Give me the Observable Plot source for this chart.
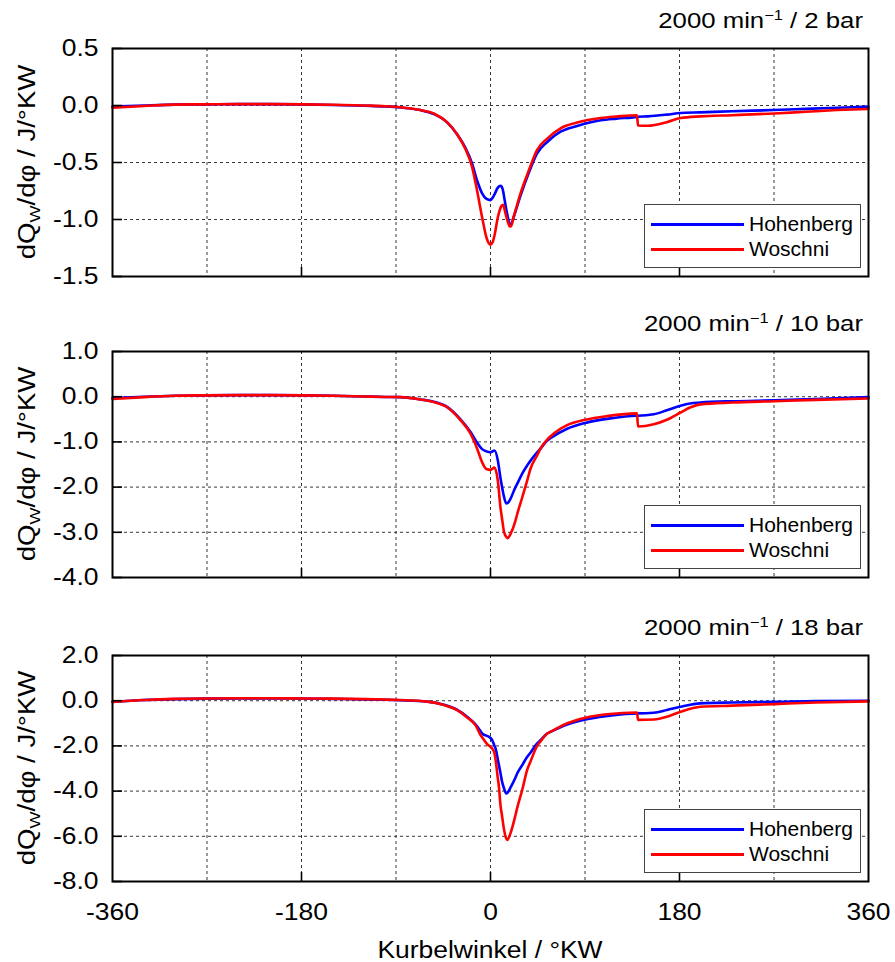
<!DOCTYPE html>
<html>
<head>
<meta charset="utf-8">
<script src="https://cdn.jsdelivr.net/npm/d3@7"></script>
<script src="https://cdn.jsdelivr.net/npm/@observablehq/plot@0.6"></script>
<style>
  html, body { margin: 0; padding: 0; background: #fff; }
  #chart { position: relative; width: 895px; height: 962px; overflow: hidden; font-family: "Liberation Sans", Arial, sans-serif; }
  .panel { position: absolute; left: 0; width: 895px; }
  .legend { position: absolute; box-sizing: border-box; border: 1px solid #444; background: #fff; }
  .legend .sw { position: absolute; left: 6px; width: 93px; height: 3px; }
  .legend .lab { position: absolute; left: 104px; font-size: 21px; line-height: 22px; color: #000; white-space: nowrap; }
</style>
</head>
<body>
<div id="chart"></div>
<script>
// ---------- data ----------
const seriesNames = ["Hohenberg", "Woschni"];
const seriesColors = ["#0000ff", "#ff0000"];
const speedLabel = "2000 min";
const loadLabels = ["2 bar", "10 bar", "18 bar"];

const yTicks1 = [0.5, 0, -0.5, -1, -1.5];
const yTicks2 = [1, 0, -1, -2, -3, -4];
const yTicks3 = [2, 0, -2, -4, -6, -8];
const xTickLabels = [-360, -180, 0, 180, 360];
const xGridLines = [-270, -180, -90, 0, 90, 180, 270];
const xMajorTicks = [-180, 0, 180];

// Panel 1: 2 bar
const angle1 = [-360, -330, -300, -270, -240, -210, -180, -150, -120, -100, -86, -67, -54, -41, -32, -24, -17.5, -12.7, -8, -3.8, 0, 2, 3.8, 7, 9.5, 10.5, 12, 13.3, 15.2, 16.5, 18.4, 19.5, 22, 28.6, 36.5, 44.4, 54, 66.7, 82.5, 105, 120, 139.5, 140.5, 150, 168, 181, 200, 230, 270, 300, 330, 360];
const hohenberg1 = [-0.01, 0.0, 0.008, 0.01, 0.012, 0.012, 0.01, 0.005, -0.002, -0.008, -0.017, -0.04, -0.075, -0.15, -0.25, -0.37, -0.51, -0.66, -0.77, -0.82, -0.83, -0.81, -0.78, -0.72, -0.705, -0.71, -0.75, -0.82, -0.92, -0.98, -1.04, -1.04, -0.98, -0.79, -0.59, -0.42, -0.32, -0.23, -0.18, -0.13, -0.115, -0.1, -0.098, -0.095, -0.08, -0.066, -0.06, -0.05, -0.04, -0.03, -0.02, -0.01];
const woschni1 = [-0.02, -0.005, 0.008, 0.01, 0.012, 0.012, 0.01, 0.006, 0.0, -0.006, -0.015, -0.04, -0.07, -0.15, -0.25, -0.38, -0.54, -0.75, -0.98, -1.16, -1.22, -1.2, -1.14, -0.98, -0.9, -0.88, -0.87, -0.91, -0.98, -1.02, -1.06, -1.06, -0.98, -0.77, -0.57, -0.39, -0.29, -0.2, -0.15, -0.11, -0.097, -0.085, -0.175, -0.178, -0.146, -0.11, -0.095, -0.085, -0.07, -0.055, -0.04, -0.03];

// Panel 2: 10 bar
const angle2 = [-360, -330, -300, -270, -240, -210, -180, -150, -120, -100, -86, -67, -54, -41, -28.6, -19, -12.7, -8, -4, 0, 3.8, 7, 9.5, 11, 12.7, 15, 16.5, 19, 23.8, 25.4, 30.2, 35, 38, 44.4, 47.6, 54, 57, 73, 90.5, 111, 139.5, 140.5, 155.5, 168, 181, 190, 200, 230, 270, 310, 360];
const hohenberg2 = [-0.03, 0.0, 0.02, 0.03, 0.035, 0.035, 0.03, 0.02, 0.005, -0.005, -0.01, -0.06, -0.11, -0.23, -0.5, -0.78, -1.02, -1.16, -1.21, -1.23, -1.19, -1.41, -1.8, -2.0, -2.2, -2.36, -2.35, -2.26, -2.0, -1.93, -1.7, -1.52, -1.42, -1.23, -1.15, -0.97, -0.92, -0.71, -0.58, -0.49, -0.42, -0.42, -0.39, -0.3, -0.2, -0.15, -0.13, -0.1, -0.08, -0.05, -0.01];
const woschni2 = [-0.05, -0.01, 0.02, 0.03, 0.035, 0.035, 0.03, 0.02, 0.005, -0.005, -0.01, -0.06, -0.12, -0.24, -0.52, -0.82, -1.15, -1.45, -1.6, -1.62, -1.57, -1.86, -2.45, -2.7, -2.97, -3.1, -3.13, -3.04, -2.74, -2.6, -2.23, -1.85, -1.6, -1.3, -1.15, -0.95, -0.88, -0.63, -0.51, -0.43, -0.37, -0.66, -0.61, -0.51, -0.35, -0.24, -0.17, -0.13, -0.1, -0.07, -0.04];

// Panel 3: 18 bar
const angle3 = [-360, -330, -300, -270, -240, -210, -180, -150, -120, -100, -86, -60, -44.4, -32, -22, -14.3, -9.5, -8, -3.2, 0, 1.6, 3.8, 4.8, 7, 8, 9.5, 11, 12.7, 15, 16, 19, 23.8, 25.4, 30.2, 35, 38, 44.4, 47.6, 54, 57, 73, 90.5, 111, 139.5, 140.5, 155.5, 168, 181, 200, 230, 270, 310, 360];
const hohenberg3 = [-0.05, 0.03, 0.07, 0.09, 0.1, 0.1, 0.1, 0.08, 0.06, 0.04, 0.02, -0.04, -0.18, -0.4, -0.72, -1.05, -1.35, -1.45, -1.56, -1.65, -1.74, -2.0, -2.11, -2.6, -2.85, -3.2, -3.58, -3.85, -4.1, -4.08, -3.85, -3.4, -3.22, -2.85, -2.48, -2.3, -1.89, -1.75, -1.45, -1.38, -1.05, -0.83, -0.68, -0.56, -0.56, -0.53, -0.41, -0.27, -0.12, -0.08, -0.05, -0.01, 0.0];
const woschni3 = [-0.05, 0.03, 0.08, 0.1, 0.11, 0.11, 0.1, 0.09, 0.07, 0.05, 0.03, -0.04, -0.19, -0.41, -0.75, -1.08, -1.52, -1.62, -1.92, -2.04, -2.12, -2.33, -2.6, -3.44, -3.8, -4.62, -5.1, -5.65, -6.1, -6.16, -5.87, -5.06, -4.75, -3.95, -3.05, -2.7, -2.0, -1.8, -1.45, -1.38, -1.0, -0.75, -0.6, -0.52, -0.85, -0.83, -0.71, -0.49, -0.27, -0.22, -0.15, -0.08, -0.03];

// ---------- layout ----------
const W = 895, ML = 112, MR = 27;
const panels = [
  {top: 0,   height: 300, mt: 48, mb: 24, yTicks: yTicks1, angle: angle1, h: hohenberg1, w: woschni1, load: loadLabels[0], showX: false},
  {top: 300, height: 300, mt: 51, mb: 23, yTicks: yTicks2, angle: angle2, h: hohenberg2, w: woschni2, load: loadLabels[1], showX: false},
  {top: 600, height: 362, mt: 55, mb: 81, yTicks: yTicks3, angle: angle3, h: hohenberg3, w: woschni3, load: loadLabels[2], showX: true}
];
const font = "Liberation Sans, Arial, sans-serif";
const chart = document.getElementById("chart");

panels.forEach((p) => {
  const plotH = p.height - p.mt - p.mb;
  const plotW = W - ML - MR;
  const rows = [];
  p.angle.forEach((a, i) => rows.push({angle: a, value: p.h[i], model: seriesNames[0]}));
  p.angle.forEach((a, i) => rows.push({angle: a, value: p.w[i], model: seriesNames[1]}));
  const yDom = [d3.min(p.yTicks), d3.max(p.yTicks)];

  const marks = [
    Plot.gridX(xGridLines, {stroke: "#222", strokeOpacity: 0.9, strokeWidth: 1, strokeDasharray: "3,3"}),
    Plot.gridY(p.yTicks, {stroke: "#222", strokeOpacity: 0.9, strokeWidth: 1, strokeDasharray: "3,3"}),
    Plot.line(rows, {x: "angle", y: "value", stroke: "model", z: "model", curve: "monotone-x", strokeWidth: 2.6, strokeLinejoin: "round"}),
    Plot.tickY(p.yTicks, {y: d => d, stroke: "black", strokeWidth: 1.6, insetRight: plotW - 10}),
    Plot.tickX(xMajorTicks, {x: d => d, stroke: "black", strokeWidth: 1.6, insetTop: plotH - 9}),
    Plot.axisY(p.yTicks, {tickSize: 0, tickPadding: 14, tickFormat: d => d.toFixed(1), label: null, fontSize: 23}),
    Plot.frame({stroke: "black", strokeWidth: 2})
  ];
  if (p.showX) marks.push(Plot.axisX(xTickLabels, {tickSize: 0, tickPadding: 22, tickFormat: d => String(d), label: null, fontSize: 23}));

  const svg = Plot.plot({
    width: W, height: p.height,
    marginLeft: ML, marginRight: MR, marginTop: p.mt, marginBottom: p.mb,
    style: {fontFamily: font, fontSize: "23px", color: "black", background: "white", overflow: "visible"},
    x: {domain: [-360, 360], axis: p.showX ? undefined : null},
    y: {domain: yDom},
    color: {domain: seriesNames, range: seriesColors},
    marks
  });

  const div = document.createElement("div");
  div.className = "panel";
  div.style.top = p.top + "px";
  div.style.height = p.height + "px";
  div.appendChild(svg);
  chart.appendChild(div);

  const s = d3.select(svg);
  s.selectAll("text").attr("data-stretch", 1.15);

  // panel title with superscript
  const t = s.append("text").attr("x", 863).attr("y", p.mt - 20).attr("text-anchor", "end")
    .attr("font-size", 22).attr("font-family", font).attr("fill", "black").style("white-space", "pre").attr("data-stretch", 1.17);
  t.append("tspan").text(speedLabel);
  t.append("tspan").attr("dy", -8).attr("font-size", 14).text("\u22121");
  t.append("tspan").attr("dy", 8).text(" / " + p.load);

  // y axis label with subscript
  const yl = s.append("text").attr("transform", `translate(35,${p.mt + plotH / 2}) rotate(-90)`)
    .attr("text-anchor", "middle").attr("font-size", 23).attr("font-family", font).attr("fill", "black")
    .style("white-space", "pre").attr("data-stretch", 1.2);
  yl.append("tspan").text("dQ");
  yl.append("tspan").attr("dy", 5).attr("font-size", 15).text("W");
  yl.append("tspan").attr("dy", -5).text("/d\u03c6 / J/\u00b0KW");

  if (p.showX) {
    s.append("text").attr("x", ML + plotW / 2).attr("y", 358).attr("text-anchor", "middle")
      .attr("font-size", 23).attr("font-family", font).attr("fill", "black").attr("data-stretch", 1.15)
      .text("Kurbelwinkel / \u00b0KW");
  }

  // stretch glyphs horizontally to match the reference's wide lettering
  s.selectAll("text[data-stretch]").each(function () {
    const L = this.getComputedTextLength();
    if (L > 0) {
      this.setAttribute("textLength", (L * +this.getAttribute("data-stretch")).toFixed(1));
      this.setAttribute("lengthAdjust", "spacingAndGlyphs");
    }
  });

  // legend box (bottom-right inside the frame)
  const lg = document.createElement("div");
  lg.className = "legend";
  const lgW = 217, lgH = 64;
  lg.style.width = lgW + "px";
  lg.style.height = lgH + "px";
  lg.style.left = (W - MR - 7 - lgW) + "px";
  lg.style.top = (p.mt + plotH - 8 - lgH) + "px";
  seriesNames.forEach((name, i) => {
    const sw = document.createElement("div");
    sw.className = "sw";
    sw.style.top = (18 + i * 25) + "px";
    sw.style.background = seriesColors[i];
    lg.appendChild(sw);
    const lab = document.createElement("div");
    lab.className = "lab";
    lab.style.top = (8 + i * 25) + "px";
    lab.textContent = name;
    lg.appendChild(lab);
  });
  div.appendChild(lg);
});
</script>
</body>
</html>
